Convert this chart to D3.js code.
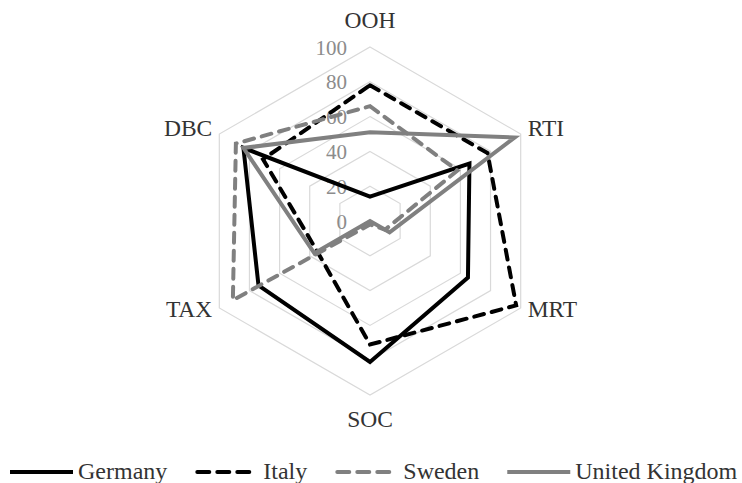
<!DOCTYPE html>
<html>
<head>
  <meta charset="utf-8">
  <script src="https://d3js.org/d3.v7.min.js"></script>
</head>
<body style="margin:0">
<svg width="742" height="483"></svg>
<script>

var axes = ["OOH", "RTI", "MRT", "SOC", "TAX", "DBC"];
var ticks = [0, 20, 40, 60, 80, 100];

var germany = [14, 66, 65, 81, 74, 84];
var italy   = [78, 78, 97, 71, 35, 71];
var sweden  = [66, 58, 10, 2, 91, 89];
var uk      = [51, 96, 13, 0, 37, 84];

var seriesNames = ["Germany", "Italy", "Sweden", "United Kingdom"];
var seriesValues = [germany, italy, sweden, uk];
var seriesColors = ["#000000", "#000000", "#808080", "#808080"];
var seriesDash = [null, "10,8", "10,8", null];

var font = "'Liberation Serif'";

var svg = d3.select("svg"),
    cx = 370,
    cy = 221;

var r = d3.scaleLinear()
    .domain([0, 100])
    .range([0, 174]);

var angle = d3.scalePoint()
    .domain(axes)
    .range([0, 2 * Math.PI * (axes.length - 1) / axes.length]);

function pt(axis, v) {
  var a = angle(axis) - Math.PI / 2;
  return [cx + r(v) * Math.cos(a), cy + r(v) * Math.sin(a)];
}

var line = d3.line();

// grid rings
svg.append("g")
  .selectAll("path")
  .data(ticks.slice(1))
  .enter().append("path")
    .attr("fill", "none")
    .attr("stroke", "#d9d9d9")
    .attr("stroke-width", 1.2)
    .attr("d", function(t) {
      return line(axes.map(function(a) { return pt(a, t); })) + "Z";
    });

// tick labels along the top axis
svg.append("g")
  .selectAll("text")
  .data(ticks)
  .enter().append("text")
    .style("font-family", font)
    .style("font-size", "21px")
    .style("fill", "#8c8c8c")
    .attr("x", cx - 23)
    .attr("y", function(t) { return cy - r(t) + 7.5; })
    .attr("text-anchor", "end")
    .text(function(t) { return t; });

// axis labels (baseline placed from the 100 vertex)
svg.append("g")
  .selectAll("text")
  .data(axes)
  .enter().append("text")
    .style("font-family", font)
    .style("font-size", "23.5px")
    .style("fill", "#333")
    .attr("text-anchor", function(a) {
      var p = pt(a, 100);
      if (Math.abs(p[0] - cx) < 1) return "middle";
      return p[0] > cx ? "start" : "end";
    })
    .attr("x", function(a) {
      var p = pt(a, 100);
      if (Math.abs(p[0] - cx) < 1) return p[0];
      return p[0] > cx ? p[0] + 7 : p[0] - 7;
    })
    .attr("y", function(a) {
      var p = pt(a, 100);
      if (Math.abs(p[0] - cx) < 1) return p[1] < cy ? p[1] - 19.5 : p[1] + 31.5;
      return p[1] < cy ? p[1] + 2 : p[1] + 8.5;
    })
    .text(function(a) { return a; });

// series
svg.append("g")
  .selectAll("path")
  .data(seriesValues)
  .enter().append("path")
    .attr("fill", "none")
    .attr("stroke", function(d, i) { return seriesColors[i]; })
    .attr("stroke-width", 4)
    .attr("stroke-linejoin", "miter")
    .attr("stroke-linecap", function(d, i) { return seriesDash[i] ? "round" : "butt"; })
    .attr("stroke-dasharray", function(d, i) { return seriesDash[i]; })
    .attr("d", function(d) {
      return line(axes.map(function(a, j) { return pt(a, d[j]); })) + "Z";
    });

// legend
var legend = svg.append("g");
var lx = 10, ly = 472, base = 479;
seriesNames.forEach(function(name, i) {
  var len = seriesDash[i] ? 58 : 63;
  legend.append("line")
      .attr("x1", lx + (seriesDash[i] ? 2 : 0))
      .attr("x2", lx + len)
      .attr("y1", ly)
      .attr("y2", ly)
      .attr("stroke", seriesColors[i])
      .attr("stroke-width", 4)
      .attr("stroke-linecap", seriesDash[i] ? "round" : "butt")
      .attr("stroke-dasharray", seriesDash[i] ? "12,8" : null);
  var t = legend.append("text")
      .style("font-family", font)
      .style("font-size", "24px")
      .style("fill", "#333")
      .attr("x", lx + 68)
      .attr("y", base)
      .text(name);
  lx = lx + 68 + t.node().getComputedTextLength() + 28;
});

</script>
</body>
</html>
